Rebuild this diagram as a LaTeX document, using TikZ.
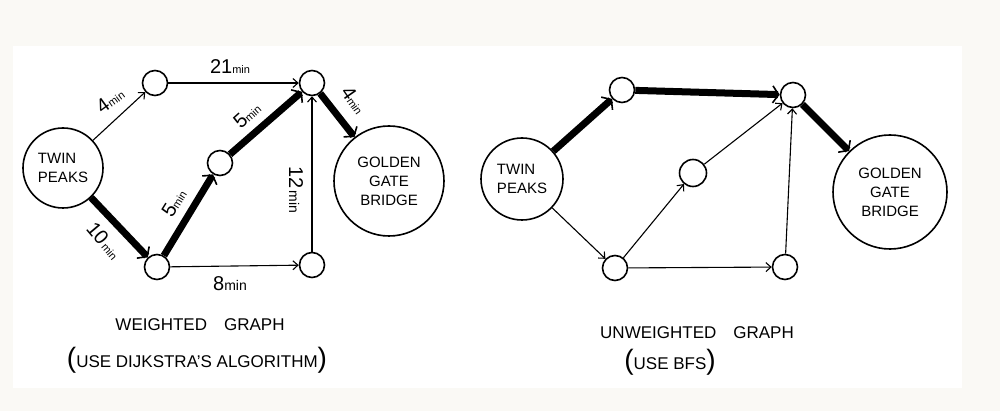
\documentclass[tikz,border=0pt]{standalone}
\usepackage{fontspec}
\setmainfont{Liberation Sans}
\usetikzlibrary{arrows.meta}
\definecolor{bgout}{HTML}{FAF9F5}
\newcommand\wlab[2]{{\fontsize{20}{20}\selectfont #1}{\fontsize{11}{11}\selectfont #2}}
\newcommand\bigparen[1]{{\fontsize{28}{28}\selectfont #1}}
\begin{document}
\begin{tikzpicture}[x=1pt,y=-1pt,
  vtx/.style={circle,draw,line width=1.6pt,minimum size=25pt,inner sep=0pt},
  place/.style={circle,draw,line width=1.6pt,inner sep=0pt,align=center,font=\fontsize{15}{19}\selectfont},
  thinedge/.style={line width=1.1pt,-{Straight Barb[length=5pt,width=9pt,line width=1.1pt]}},
  boldedge/.style={line width=7pt,-{Straight Barb[length=6pt,width=17pt,line width=1.6pt]}},
  lbl/.style={inner sep=1pt},
  captxt/.style={font=\fontsize{17}{20}\selectfont}]
\fill[bgout] (0,0) rectangle (1000,411);
\fill[white] (13,46) rectangle (962,388);

% ---------- left: weighted graph ----------
\node[place,minimum size=80pt,align=left] (tpL) at (63,168) {TWIN\\PEAKS};
\node[vtx] (aL) at (155,83) {};
\node[vtx] (bL) at (157,267) {};
\node[vtx] (cL) at (220,163) {};
\node[vtx] (dL) at (312,83) {};
\node[vtx] (eL) at (312,265) {};
\node[place,minimum size=110pt] (gL) at (389,181) {GOLDEN\\GATE\\BRIDGE};

\draw[thinedge] (tpL) -- (aL);
\draw[thinedge] (aL) -- (dL);
\draw[boldedge] (tpL) -- (bL);
\draw[boldedge] (bL) -- (cL);
\draw[boldedge] (cL) -- (dL);
\draw[boldedge] (dL) -- (gL);
\draw[thinedge] (bL) -- (eL);
\draw[thinedge] (eL) -- (dL);

\node[lbl,rotate=36] (w1) at (110,100) {\wlab{4}{min}};
\node[lbl] (w2) at (230,67) {\wlab{21}{min}};
\node[lbl,rotate=42] (w3) at (247,115) {\wlab{5}{min}};
\node[lbl,rotate=-55] (w4) at (354,100) {\wlab{4}{min}};
\node[lbl,rotate=-90] (w5) at (296,190) {\wlab{12}{\,\fontsize{14}{14}\selectfont min}};
\node[lbl,rotate=58] (w6) at (174,203) {\wlab{5}{min}};
\node[lbl,rotate=-50] (w7) at (104,241) {\wlab{10}{\,min}};
\node[lbl] (w8) at (230,284) {\wlab{8}{\fontsize{14}{14}\selectfont min}};

\node[captxt] (capL1) at (200,325) {WEIGHTED\quad GRAPH};
\node[captxt] (capL2) at (197,360) {\bigparen{(}USE DIJKSTRA'S ALGORITHM\bigparen{)}};

% ---------- right: unweighted graph ----------
\node[place,minimum size=82pt,align=left] (tpR) at (522,179) {TWIN\\PEAKS};
\node[vtx] (aR) at (622,90) {};
\node[vtx] (dR) at (793,95) {};
\node[vtx,minimum size=27pt] (cR) at (693,173) {};
\node[vtx] (bR) at (615,268) {};
\node[vtx] (eR) at (785,267) {};
\node[place,minimum size=114pt] (gR) at (890,192) {GOLDEN\\GATE\\BRIDGE};

\draw[boldedge] (tpR) -- (aR);
\draw[boldedge] (aR) -- (dR);
\draw[boldedge] (dR) -- (gR);
\draw[thinedge] (tpR) -- (bR);
\draw[thinedge] (bR) -- (cR);
\draw[thinedge] (cR) -- (dR);
\draw[thinedge] (bR) -- (eR);
\draw[thinedge] (eR) -- (dR);

\node[captxt] (capR1) at (697,333) {UNWEIGHTED\quad GRAPH};
\node[captxt] (capR2) at (670,362) {\bigparen{(}USE BFS\bigparen{)}};
\end{tikzpicture}
\end{document}
